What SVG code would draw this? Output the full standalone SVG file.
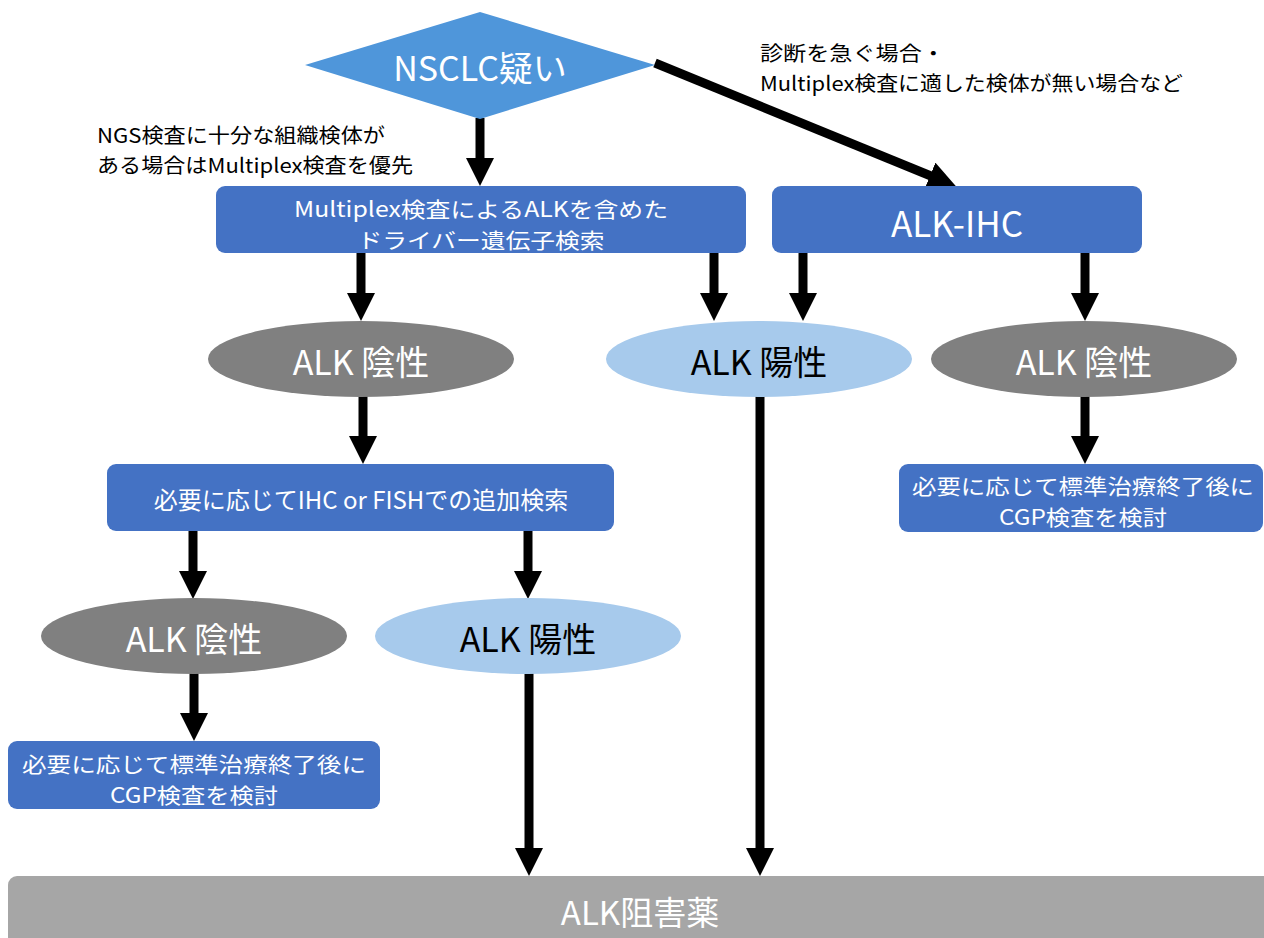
<svg xmlns="http://www.w3.org/2000/svg" width="1264" height="938" viewBox="0 0 1264 938">
<style>
text{font-family:"Noto Sans CJK JP","Noto Sans",sans-serif;dominant-baseline:central}
.box{fill:#4472C4}
.neg{fill:#808080}
.pos{fill:#A7CAEC}
.w{fill:#FFFFFF;text-anchor:middle}
.b{fill:#000000;text-anchor:middle}
.note{fill:#000000;font-size:20px}
.bt{font-size:24px}
.bt2{font-size:21px}
.big{font-size:34px}
.arr{stroke:#000000;stroke-width:9;fill:none}
</style>
<defs>
<marker id="ah" markerUnits="userSpaceOnUse" markerWidth="28" markerHeight="28" viewBox="0 0 28 28" refX="1" refY="14" orient="auto">
<path d="M0,0 L28,14 L0,28 Z" fill="#000000"/>
</marker>
</defs>
<rect width="1264" height="938" fill="#FFFFFF"/>
<g id="connectors">
<line class="arr" x1="480" y1="118" x2="480" y2="159" marker-end="url(#ah)"/>
<line class="arr" x1="655" y1="63" x2="931" y2="176" marker-end="url(#ah)"/>
<line class="arr" x1="361" y1="253" x2="361" y2="294" marker-end="url(#ah)"/>
<line class="arr" x1="714" y1="253" x2="714" y2="294" marker-end="url(#ah)"/>
<line class="arr" x1="803" y1="253" x2="803" y2="294" marker-end="url(#ah)"/>
<line class="arr" x1="1085" y1="253" x2="1085" y2="294" marker-end="url(#ah)"/>
<line class="arr" x1="363" y1="396" x2="363" y2="437" marker-end="url(#ah)"/>
<line class="arr" x1="1085" y1="396" x2="1085" y2="437" marker-end="url(#ah)"/>
<line class="arr" x1="193" y1="531" x2="193" y2="572" marker-end="url(#ah)"/>
<line class="arr" x1="528" y1="531" x2="528" y2="572" marker-end="url(#ah)"/>
<line class="arr" x1="194" y1="673" x2="194" y2="714" marker-end="url(#ah)"/>
<line class="arr" x1="529" y1="673" x2="529" y2="849" marker-end="url(#ah)"/>
<line class="arr" x1="760" y1="396" x2="760" y2="849" marker-end="url(#ah)"/>
</g>
<g id="n-nsclc">
<polygon points="305,65 480,12 655,65 480,119" fill="#4F96DA"/>
<text class="w big" x="480" y="66">NSCLC疑い</text>
</g>
<g id="note-right">
<text class="note" x="760" y="52" textLength="185" lengthAdjust="spacingAndGlyphs">診断を急ぐ場合・</text>
<text class="note" x="760" y="82" textLength="423" lengthAdjust="spacingAndGlyphs">Multiplex検査に適した検体が無い場合など</text>
</g>
<g id="note-left">
<text class="note" x="97" y="134" textLength="288" lengthAdjust="spacingAndGlyphs">NGS検査に十分な組織検体が</text>
<text class="note" x="97" y="164" textLength="316" lengthAdjust="spacingAndGlyphs">ある場合はMultiplex検査を優先</text>
</g>
<g id="n-multiplex">
<rect class="box" x="216" y="186" width="530" height="67" rx="9"/>
<text class="w bt2" x="481" y="207.5" textLength="374" lengthAdjust="spacingAndGlyphs">Multiplex検査によるALKを含めた</text>
<text class="w bt2" x="481" y="238.5" textLength="247" lengthAdjust="spacingAndGlyphs">ドライバー遺伝子検索</text>
</g>
<g id="n-ihc">
<rect class="box" x="772" y="186" width="370" height="67" rx="9"/>
<text class="w" x="957" y="221" font-size="35">ALK-IHC</text>
</g>
<g id="n-neg1">
<ellipse class="neg" cx="361" cy="359" rx="153" ry="38"/>
<text class="w big" x="361" y="360">ALK 陰性</text>
</g>
<g id="n-pos1">
<ellipse class="pos" cx="759" cy="359" rx="153" ry="38"/>
<text class="b big" x="759" y="360">ALK 陽性</text>
</g>
<g id="n-neg2">
<ellipse class="neg" cx="1084" cy="359" rx="153" ry="38"/>
<text class="w big" x="1084" y="360">ALK 陰性</text>
</g>
<g id="n-add">
<rect class="box" x="107" y="464" width="507" height="67" rx="9"/>
<text class="w bt" x="361" y="498">必要に応じてIHC or FISHでの追加検索</text>
</g>
<g id="n-cgp-right">
<rect class="box" x="899" y="464" width="364" height="68" rx="9"/>
<text class="w bt2" x="1083" y="484.5" textLength="342" lengthAdjust="spacingAndGlyphs">必要に応じて標準治療終了後に</text>
<text class="w bt2" x="1083" y="515.5" textLength="168" lengthAdjust="spacingAndGlyphs">CGP検査を検討</text>
</g>
<g id="n-neg3">
<ellipse class="neg" cx="194" cy="636" rx="153" ry="38"/>
<text class="w big" x="194" y="637">ALK 陰性</text>
</g>
<g id="n-pos2">
<ellipse class="pos" cx="528" cy="636" rx="153" ry="38"/>
<text class="b big" x="528" y="637">ALK 陽性</text>
</g>
<g id="n-cgp-left">
<rect class="box" x="8" y="741" width="372" height="68" rx="9"/>
<text class="w bt2" x="194" y="762.5" textLength="344" lengthAdjust="spacingAndGlyphs">必要に応じて標準治療終了後に</text>
<text class="w bt2" x="194" y="793.5" textLength="168" lengthAdjust="spacingAndGlyphs">CGP検査を検討</text>
</g>
<g id="n-inhibitor">
<rect x="8" y="876" width="1270" height="80" rx="9" fill="#A6A6A6"/>
<text class="w" x="640" y="911" font-size="33">ALK阻害薬</text>
</g>
</svg>
